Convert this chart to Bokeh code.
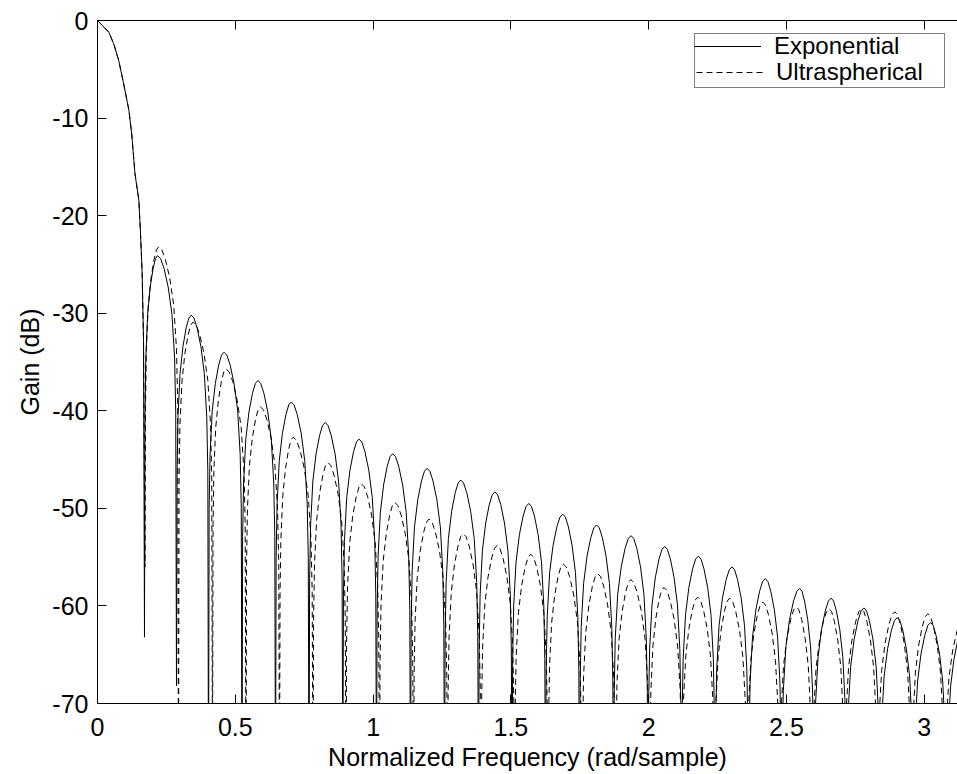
from bokeh.plotting import figure
from bokeh.models import (Range1d, LinearAxis, FixedTicker, Legend, LegendItem)
from bokeh.embed import file_html
from bokeh.resources import INLINE

# ---------------- data ----------------
x_ticks = [0, 0.5, 1, 1.5, 2, 2.5, 3]
x_tick_labels = ["0", "0.5", "1", "1.5", "2", "2.5", "3"]
y_ticks = [0, -10, -20, -30, -40, -50, -60, -70]
y_tick_labels = ["0", "-10", "-20", "-30", "-40", "-50", "-60", "-70"]

# main lobe (both windows nearly coincide)
main_x = [0.0, 0.041, 0.059, 0.077, 0.095, 0.114, 0.124, 0.136, 0.150, 0.156, 0.162, 0.167]
exp_main_db = [0.0, -1.2, -2.4, -4.1, -6.5, -9.2, -11.6, -15.7, -18.4, -21.8, -25.9, -32.8]
ultra_main_db = [0.0, -1.2, -2.4, -4.1, -6.5, -9.2, -11.6, -15.7, -18.4, -21.8, -25.9, -32.8]

# Exponential window: nulls (rad/sample) and their depth (dB), side-lobe peaks
exp_null_x = [0.1705, 0.2866, 0.4028, 0.5243, 0.6459, 0.7674, 0.8901, 1.0123, 1.1357,
              1.2591, 1.3824, 1.5040, 1.6255, 1.7489, 1.8723, 1.9974, 2.1190, 2.2406,
              2.3621, 2.4819, 2.5998, 2.7177, 2.8392, 2.9608, 3.0806, 3.2026]
exp_null_db = [-63.2, -68.2, -80, -80, -80, -80, -80, -80, -80, -80, -80, -80, -80,
               -80, -80, -80, -80, -80, -80, -80, -80, -80, -80, -80, -80, -80]
exp_peak_x = [0.218, 0.340, 0.459, 0.582, 0.703, 0.826, 0.949, 1.071, 1.196, 1.318,
              1.442, 1.565, 1.688, 1.811, 1.936, 2.058, 2.180, 2.302, 2.423, 2.548,
              2.662, 2.781, 2.902, 3.023, 3.1416]
exp_peak_db = [-24.1, -30.2, -34.0, -36.9, -39.1, -41.2, -42.9, -44.4, -45.9, -47.1,
               -48.3, -49.5, -50.6, -51.7, -52.8, -53.9, -54.9, -56.0, -57.2, -58.2,
               -59.2, -60.2, -61.2, -61.7, -62.3]

# Ultraspherical window
ultra_null_x = [0.1724, 0.2939, 0.4173, 0.5388, 0.6604, 0.7819, 0.9017, 1.0232, 1.1466,
                1.2700, 1.3915, 1.5131, 1.6346, 1.7580, 1.8795, 2.0029, 2.1208, 2.2388,
                2.3567, 2.4746, 2.5925, 2.7104, 2.8302, 2.9536, 3.0733, 3.2099]
ultra_null_db = [-56.0, -80, -80, -80, -80, -80, -80, -80, -80, -80, -80, -80, -80,
                 -80, -80, -80, -80, -80, -80, -80, -80, -80, -80, -80, -80, -80]
ultra_peak_x = [0.222, 0.347, 0.466, 0.591, 0.710, 0.836, 0.958, 1.079, 1.203, 1.327,
                1.450, 1.572, 1.690, 1.815, 1.935, 2.055, 2.178, 2.294, 2.414, 2.536,
                2.655, 2.772, 2.893, 3.013, 3.1416]
ultra_peak_db = [-23.2, -30.9, -35.7, -39.6, -42.7, -45.3, -47.5, -49.4, -51.1, -52.6,
                 -53.8, -54.7, -55.7, -56.7, -57.3, -58.1, -59.1, -59.2, -59.6, -60.1,
                 -60.3, -60.3, -60.6, -60.8, -61.3]

# shape of one side lobe:
# fraction of the null-to-peak distance, and dB below the lobe peak
lobe_frac = [0.04, 0.10, 0.24, 0.44, 0.66, 0.84]
lobe_drop = [-16.0, -10.5, -6.0, -3.2, -1.3, -0.3]


def build(main_db, null_x, null_db, peak_x, peak_db):
    xs = list(main_x)
    ys = list(main_db)
    for k in range(len(peak_x)):
        xl, xr = null_x[k], null_x[k + 1]
        xp, pk = peak_x[k], peak_db[k]
        xs.append(xl)
        ys.append(null_db[k])
        for f, d in zip(lobe_frac, lobe_drop):
            xs.append(xl + f * (xp - xl))
            ys.append(pk + d)
        xs.append(xp)
        ys.append(pk)
        for f, d in zip(reversed(lobe_frac), reversed(lobe_drop)):
            xs.append(xr - f * (xr - xp))
            ys.append(pk + d)
    xs.append(null_x[-1])
    ys.append(null_db[-1])
    return xs, ys


ex, ey = build(exp_main_db, exp_null_x, exp_null_db, exp_peak_x, exp_peak_db)
ux, uy = build(ultra_main_db, ultra_null_x, ultra_null_db, ultra_peak_x, ultra_peak_db)

FONT = "Liberation Sans"
FS = "25px"
LFS = "24px"

p = figure(width=957, height=774, output_backend="svg", toolbar_location=None,
           x_range=Range1d(0, 3.1205), y_range=Range1d(-70, 0),
           x_axis_location=None, y_axis_location=None,
           min_border_left=97, min_border_right=0, min_border_top=20,
           min_border_bottom=71)
p.outline_line_color = None
p.grid.visible = False
p.background_fill_color = "white"
p.border_fill_color = "white"

r1 = p.line(ex, ey, line_color="black", line_width=1)
r2 = p.line(ux, uy, line_color="black", line_width=1, line_dash="6 4")


def style_axis(ax, ticks, labels, show_labels=True):
    ax.ticker = FixedTicker(ticks=ticks)
    ax.major_label_overrides = {t: l for t, l in zip(ticks, labels)}
    ax.major_tick_in = 9
    ax.major_tick_out = 0
    ax.minor_tick_in = 0
    ax.minor_tick_out = 0
    ax.axis_line_color = "black"
    ax.major_tick_line_color = "black"
    ax.major_label_text_font = FONT
    ax.major_label_text_color = "black"
    ax.axis_label_text_font = FONT
    ax.axis_label_text_font_size = FS
    ax.axis_label_text_font_style = "normal"
    ax.axis_label_text_color = "black"
    if show_labels:
        ax.major_label_text_font_size = FS
    else:
        ax.major_label_text_font_size = "0px"
        ax.major_label_standoff = 0


xb = LinearAxis(axis_label="Normalized Frequency (rad/sample)")
style_axis(xb, x_ticks, x_tick_labels)
xb.major_label_standoff = 14
xb.axis_label_standoff = 4
p.add_layout(xb, "below")

xa = LinearAxis()
style_axis(xa, x_ticks, ["" for _ in x_ticks], show_labels=False)
p.add_layout(xa, "above")

yl = LinearAxis(axis_label="Gain (dB)")
style_axis(yl, y_ticks, y_tick_labels)
yl.major_label_standoff = 9
yl.axis_label_standoff = 5
p.add_layout(yl, "left")


def style_legend(lg):
    lg.label_text_font = FONT
    lg.label_text_font_size = LFS
    lg.label_text_color = "black"
    lg.glyph_width = 67
    lg.glyph_height = 22
    lg.label_height = 22
    lg.label_width = 167
    lg.label_standoff = 13
    lg.padding = 1
    lg.spacing = 0
    lg.margin = 0


# framed legend holding the second entry; its (blank) title row leaves room for
# the first entry, which is overlaid by a frameless legend
legend_box = Legend(items=[LegendItem(label="Ultraspherical", renderers=[r2])],
                    location=(597, 615), title=" ")
style_legend(legend_box)
legend_box.title_text_font_size = "16px"
legend_box.title_standoff = 5
legend_box.border_line_color = "black"
legend_box.border_line_width = 1
legend_box.background_fill_color = "white"
legend_box.background_fill_alpha = 1
p.add_layout(legend_box)

legend_top = Legend(items=[LegendItem(label="Exponential", renderers=[r1])],
                    location=(597, 643))
style_legend(legend_top)
legend_top.border_line_color = None
legend_top.background_fill_alpha = 0
p.add_layout(legend_top)

open("out.html", "w").write(file_html(p, INLINE))
